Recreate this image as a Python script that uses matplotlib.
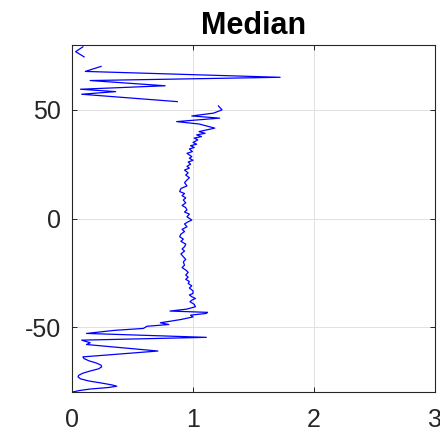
import numpy as np
import matplotlib
matplotlib.use("Agg")
import matplotlib.pyplot as plt

plt.rcParams['font.family'] = ['Liberation Sans', 'DejaVu Sans']
plt.rcParams['axes.unicode_minus'] = False

# latitude (deg) and median value, top to bottom; NaN = gap
lat = [79.0, 76.8, 74.4, np.nan,
       70.0, 67.7, 65.0, 63.5, 61.1, 59.5, 58.4, 57.2, 53.8, np.nan,
       51.8, 50.0, 48.5, 47.2, 46.2, 44.6, 43.5, 41.6, 40.0, 39.2, 38.5, 37.7,
       37.0, 36.2, 35.0, 34.2, 33.5, 32.7, 32.0, 30.8, 30.0, 28.5, 27.7, 26.8,
       26.0, 25.0, 24.0, 23.2, 22.3, 21.0, 20.0, 18.8, 17.7, 16.5, 15.0, 13.8,
       12.4, 11.5, 10.5, 9.5, 8.5, 7.2, 6.0, 5.0, 3.9, 3.0, 2.0, 0.8, -0.7,
       -1.5, -2.5, -3.8, -5.0, -6.0, -7.2, -8.4, -9.5, -10.5, -11.8, -13.0,
       -14.0, -15.0, -16.3, -17.6, -18.8, -20.0, -21.5, -22.6, -23.7, -24.8,
       -26.0, -27.0, -28.0, -29.0, -29.9, -31.0, -32.0, -33.3, -34.5, -35.2,
       -36.0, -36.8, -37.6, -38.3, -39.5, -40.6, -41.7,
       -42.6, -43.2, -43.7, -44.5, -45.3, -46.5, -48.0, -48.8, -49.6, -50.6,
       -51.5, -52.9, -54.7, -56.0, -57.2, -58.0, -61.0, -63.7, -64.5, -65.5,
       -66.5, -67.5, -68.3, -69.2, -70.2, -71.2, -72.2, -72.9, -73.8, -74.8,
       -75.8, -76.6, -77.2, -77.8, -78.5, -79.2, -79.8]
median = [0.09, 0.03, 0.10, np.nan,
          0.24, 0.11, 1.72, 0.15, 0.77, 0.07, 0.36, 0.08, 0.87, np.nan,
          1.21, 1.24, 1.17, 0.99, 1.22, 0.865, 1.05, 1.18, 1.05, 1.10, 1.03, 1.07,
          1.01, 1.04, 1.00, 1.03, 0.98, 1.01, 0.97, 0.995, 0.95, 0.99, 0.97, 1.00,
          0.96, 0.98, 0.95, 0.97, 0.93, 0.96, 0.94, 0.97, 0.95, 0.93, 0.95, 0.90,
          0.89, 0.93, 0.91, 0.94, 0.92, 0.94, 0.91, 0.94, 0.95, 0.93, 0.97, 0.95, 0.99,
          0.96, 0.93, 0.95, 0.91, 0.93, 0.90, 0.89, 0.92, 0.90, 0.94, 0.93,
          0.91, 0.93, 0.90, 0.92, 0.94, 0.92, 0.93, 0.91, 0.94, 0.96,
          0.94, 0.96, 0.94, 0.97, 0.96, 0.99, 0.97, 1.00, 1.00, 0.97,
          0.99, 1.02, 0.99, 0.975, 1.01, 1.02, 0.95,
          0.81, 1.12, 1.11, 0.98, 1.00, 0.90, 0.73, 0.80, 0.62, 0.59,
          0.35, 0.12, 1.11, 0.08, 0.15, 0.12, 0.71, 0.09, 0.10, 0.14,
          0.20, 0.24, 0.245, 0.22, 0.15, 0.09, 0.055, 0.05, 0.07, 0.14,
          0.25, 0.33, 0.37, 0.30, 0.15, 0.06, 0.01]

fig = plt.figure(figsize=(4.4, 4.37), dpi=100)
ax = fig.add_axes([72/440, (437-392.3)/437, 363/440, 347.6/437])

ax.plot(median, lat, color=(0, 0, 1), lw=0.9)

ax.set_xlim(0, 3)
ax.set_ylim(-80, 80)
ax.set_xticks([0, 1, 2, 3])
ax.set_yticks([-50, 0, 50])
ax.grid(True, color='#dcdcdc', lw=0.6)
ax.set_axisbelow(True)
ax.tick_params(direction='in', length=3.5, width=0.7, colors='#262626',
               labelsize=18, top=True, right=True)
ax.tick_params(axis='x', pad=11)
ax.tick_params(axis='y', pad=8)
for s in ax.spines.values():
    s.set_color('#262626')
    s.set_linewidth(0.8)

ax.set_title('Median', fontsize=22, fontweight='bold', pad=8)

fig.savefig('out.png', dpi=100)
